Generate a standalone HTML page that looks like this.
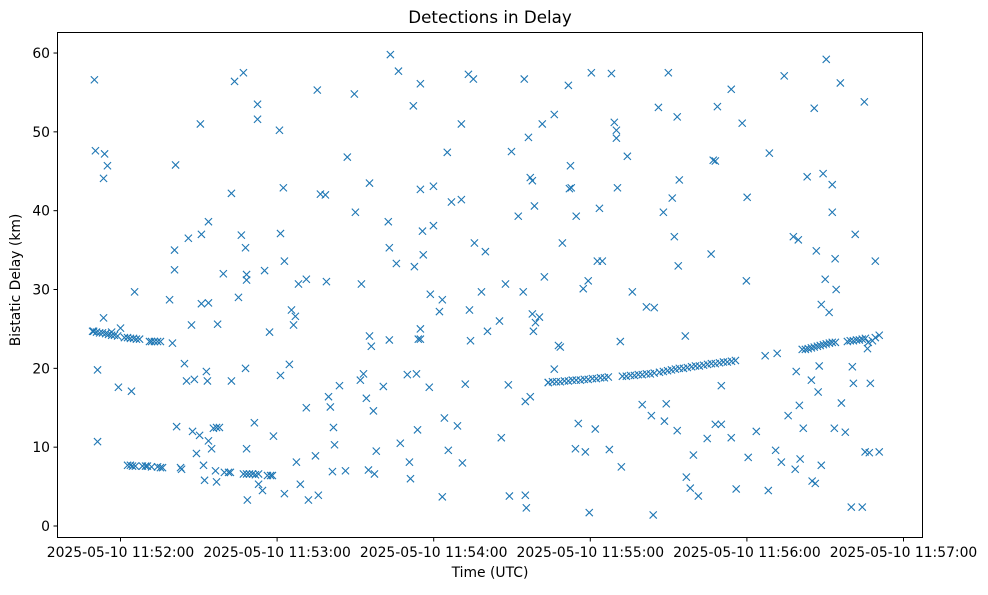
<!DOCTYPE html>
<html><head><meta charset="utf-8"><style>
body{margin:0;background:#fff;}
svg text{font-family:"DejaVu Sans","Liberation Sans",sans-serif;fill:#000;}
</style></head><body>
<svg id="chart" width="988" height="590" xmlns="http://www.w3.org/2000/svg">
<rect width="988" height="590" fill="#fff"/>
<text x="490" y="23" font-size="16.7" text-anchor="middle">Detections in Delay</text>
<text x="490" y="577" font-size="13.9" text-anchor="middle">Time (UTC)</text>
<text transform="translate(20,280) rotate(-90)" font-size="13.9" text-anchor="middle">Bistatic Delay (km)</text>
<g id="marks"></g>
<g id="axes"></g>
<rect x="57.5" y="32.5" width="865" height="505" fill="none" stroke="#000" stroke-width="1"/>
</svg>
<script>
// seconds after 11:52:00
const times = [-10.0,-9.6,-6.1,-6.5,-5.0,-8.8,-8.8,-6.5,-0.8,4.2,5.4,0,
18.8,19.9,20.7,20.7,21.1,21.5,23.0,23.4,24.5,25.3,26.0,27.2,27.6,28.3,29.1,30.3,30.6,31.0,31.0,31.8,32.2,32.9,33.7,33.3,33.7,33.7,34.9,35.6,36.4,36.8,36.8,37.2,37.9,39.4,39.8,41.4,42.1,42.5,42.5,43.7,45.2,46.3,47.1,47.9,48.3,48.3,47.9,48.3,48.6,51.3,52.5,52.5,52.9,54.4,55.2,57.1,58.6,
60.9,61.3,61.3,62.4,62.8,62.8,64.7,65.5,66.3,67.0,67.4,68.2,68.9,71.2,71.2,72.0,74.7,75.4,75.8,76.6,78.5,78.9,79.7,80.4,81.2,81.6,82.0,83.9,86.2,86.9,89.6,90.0,91.9,92.3,93.1,94.2,95.0,95.4,95.4,96.1,96.9,97.3,98.0,100.7,102.6,103.0,103.0,103.4,105.7,106.5,107.2,109.9,110.7,111.1,112.2,112.6,113.4,113.8,114.1,114.9,114.9,114.9,114.9,115.7,116.0,118.3,118.7,119.9,119.9,
122.2,123.3,123.3,124.1,125.2,125.6,126.8,129.1,130.6,130.6,131.0,132.1,133.3,133.7,134.1,135.2,135.6,138.3,139.8,140.6,145.2,145.9,147.5,148.6,149.0,149.8,152.4,154.3,154.7,155.1,155.1,155.5,156.3,157.0,157.0,157.8,157.8,158.2,158.6,159.0,160.5,161.6,162.4,163.9,166.2,166.2,167.8,168.5,169.3,171.6,172.0,172.4,172.7,174.3,174.6,175.4,177.3,178.1,179.2,179.6,
180.4,181.9,182.7,183.5,184.6,187.3,188.1,189.2,190.0,190.0,190.4,191.5,191.9,194.2,196.1,199.9,201.5,203.4,204.1,204.5,206.1,208.0,208.4,209.1,209.9,211.4,212.2,213.3,213.3,213.7,214.1,216.4,216.8,218.3,219.5,221.4,224.8,226.3,227.1,227.9,227.9,228.7,230.2,230.2,234.0,234.0,235.9,238.2,240.1,239.8,240.5,243.6,247.0,248.2,248.6,251.0,251.6,253.2,254.3,255.8,257.8,258.5,258.9,259.7,260.1,260.4,261.6,263.1,264.7,265.0,265.8,266.2,266.6,267.3,267.7,268.5,268.5,269.2,270.0,270.4,271.5,272.7,272.7,273.5,273.8,274.2,275.8,276.2,277.7,280.0,280.4,280.8,281.5,284.2,285.0,285.3,286.9,287.3,289.2,290.7,
-10.7,-10.3,-9.2,-8.0,-6.9,-5.7,-4.6,-3.4,-3.4,-2.3,-1.1,1.5,2.7,3.8,5.0,6.1,7.3,11.1,11.9,13.0,14.2,15.3,
2.7,3.8,4.6,5.7,8.4,9.6,10.3,11.9,14.2,15.3,16.1,
47.1,48.3,49.4,50.6,51.7,52.9,56.3,57.5,58.2,
163.9,165.5,167.0,168.5,170.1,171.6,173.1,174.6,176.2,177.7,179.2,180.8,182.3,183.9,185.4,186.9,
192.3,193.8,195.4,196.9,198.4,199.9,201.5,203.0,204.5,206.5,208.0,209.6,211.1,212.6,214.1,215.7,217.2,218.8,220.3,221.8,223.4,224.9,226.4,227.9,229.5,231.0,232.5,234.1,235.6,
261.2,262.4,263.5,264.7,265.8,267.0,268.1,269.3,270.4,271.6,272.7,273.9,278.5,279.6,280.8,282.0,283.1,284.2,285.4,286.5,286.2,288.1,289.2,290.7];
const delays = [56.6,47.6,47.2,44.1,45.7,19.8,10.7,26.4,17.6,17.1,29.7,25.1,
28.7,23.2,35.0,32.5,45.8,12.6,7.4,7.2,20.6,18.4,36.5,25.5,12.0,18.6,9.2,11.5,51.0,37.0,28.2,7.7,5.8,19.6,28.3,18.4,38.6,10.8,9.8,12.4,7.0,5.6,12.5,25.6,12.5,32.0,6.8,6.8,6.8,18.4,42.2,56.4,29.0,36.9,57.5,35.3,31.9,31.2,20.0,9.8,3.3,13.1,53.5,51.6,5.3,4.5,32.4,24.6,11.4,
50.2,37.1,19.1,42.9,33.6,4.1,20.5,27.4,25.5,26.6,8.1,30.7,5.3,31.3,15.0,3.3,8.9,55.3,3.9,42.1,42.0,31.0,16.4,15.1,6.9,12.5,10.3,17.8,7.0,46.8,54.8,39.8,18.5,30.7,19.3,16.2,7.1,24.1,43.5,22.8,14.6,6.6,9.5,17.7,38.6,35.3,23.6,59.8,33.3,57.7,10.5,19.2,8.1,6.0,53.3,32.9,19.3,12.2,23.7,56.1,42.7,25.0,23.7,37.4,34.4,17.6,29.4,38.1,43.1,
27.2,28.7,3.7,13.7,47.4,9.6,41.1,12.7,51.0,41.4,8.0,18.0,57.3,27.4,23.5,56.7,35.9,29.7,34.8,24.7,26.0,11.2,30.7,17.9,3.8,47.5,39.3,29.7,56.7,15.8,3.9,2.3,49.3,16.4,44.2,43.8,26.9,24.7,40.6,25.8,26.5,51.0,31.6,18.2,52.2,19.9,22.9,22.7,35.9,55.9,42.8,45.7,42.9,9.8,39.3,13.0,30.1,9.4,31.1,1.7,
57.5,12.3,33.6,40.3,33.6,9.7,57.4,51.2,50.2,49.2,42.9,23.4,7.5,46.9,29.7,15.4,27.8,14.0,1.4,27.7,53.1,39.8,13.3,15.5,57.5,41.6,36.7,12.1,51.9,33.0,43.9,24.1,6.2,4.8,9.0,3.8,11.1,34.5,46.4,46.3,12.9,53.2,12.9,17.8,11.2,55.4,4.7,51.1,41.7,31.1,8.7,12.0,21.6,4.5,47.3,9.6,21.9,8.1,57.1,14.0,36.7,7.2,19.6,36.3,15.3,8.5,12.4,44.3,18.5,5.7,53.0,5.4,34.9,17.0,20.3,28.1,7.7,44.7,31.3,59.2,27.1,43.3,39.8,12.4,33.9,30.0,56.2,15.6,11.9,2.4,20.2,18.1,37.0,2.4,53.8,9.4,9.3,18.1,33.6,9.4,
24.7,24.7,24.6,24.5,24.5,24.4,24.3,24.6,24.2,24.2,24.1,23.9,23.9,23.8,23.8,23.7,23.7,23.4,23.4,23.4,23.4,23.4,
7.7,7.7,7.6,7.6,7.6,7.6,7.6,7.5,7.5,7.4,7.4,
6.6,6.6,6.6,6.6,6.5,6.6,6.4,6.4,6.4,
18.2,18.3,18.3,18.3,18.4,18.4,18.5,18.5,18.5,18.6,18.6,18.7,18.7,18.8,18.8,18.9,
19.0,19.0,19.1,19.1,19.2,19.2,19.3,19.3,19.4,19.5,19.6,19.7,19.8,19.9,20.0,20.0,20.1,20.2,20.3,20.3,20.4,20.5,20.6,20.6,20.7,20.8,20.8,20.9,21.0,
22.4,22.4,22.5,22.6,22.7,22.8,22.9,23.0,23.1,23.2,23.3,23.3,23.4,23.5,23.5,23.6,23.6,23.7,23.8,23.3,22.5,23.5,23.9,24.2];
const xTickSeconds = [0,60,120,180,240,300];
const xTickLabels = ["2025-05-10 11:52:00","2025-05-10 11:53:00","2025-05-10 11:54:00","2025-05-10 11:55:00","2025-05-10 11:56:00","2025-05-10 11:57:00"];
const yTicks = [0,10,20,30,40,50,60];

const X0 = 120.5, XS = 2.61, Y0 = 526, YS = 7.883;
function xScale(t){ return X0 + t*XS; }
function yScale(d){ return Y0 - d*YS; }
const NS = "http://www.w3.org/2000/svg";
const marks = document.getElementById('marks');
const axes = document.getElementById('axes');
const n = Math.min(times.length, delays.length);
for (let i=0;i<n;i++){
  const cx = xScale(times[i]), cy = yScale(delays[i]), r = 3.6;
  const p = document.createElementNS(NS,'path');
  p.setAttribute('d',`M${cx-r},${cy-r}L${cx+r},${cy+r}M${cx-r},${cy+r}L${cx+r},${cy-r}`);
  p.setAttribute('stroke','#1f77b4');
  p.setAttribute('stroke-width','1.1');
  p.setAttribute('fill','none');
  
  
  marks.appendChild(p);
}
xTickSeconds.forEach((s,i)=>{
  const x = xScale(s);
  const l = document.createElementNS(NS,'line');
  l.setAttribute('x1',x); l.setAttribute('x2',x); l.setAttribute('y1',537.5); l.setAttribute('y2',541.5);
  l.setAttribute('stroke','#000');
  
  
  axes.appendChild(l);
  const t = document.createElementNS(NS,'text');
  t.setAttribute('x',x); t.setAttribute('y',557); t.setAttribute('font-size','13.9'); t.setAttribute('text-anchor','middle');
  t.textContent = xTickLabels[i];
  
  
  axes.appendChild(t);
});
yTicks.forEach(v=>{
  const y = yScale(v);
  const l = document.createElementNS(NS,'line');
  l.setAttribute('x1',53.5); l.setAttribute('x2',57.5); l.setAttribute('y1',y); l.setAttribute('y2',y);
  l.setAttribute('stroke','#000');
  
  
  axes.appendChild(l);
  const t = document.createElementNS(NS,'text');
  t.setAttribute('x',50); t.setAttribute('y',y+5); t.setAttribute('font-size','13.9'); t.setAttribute('text-anchor','end');
  t.textContent = String(v);
  
  
  axes.appendChild(t);
});
</script>
</body></html>
